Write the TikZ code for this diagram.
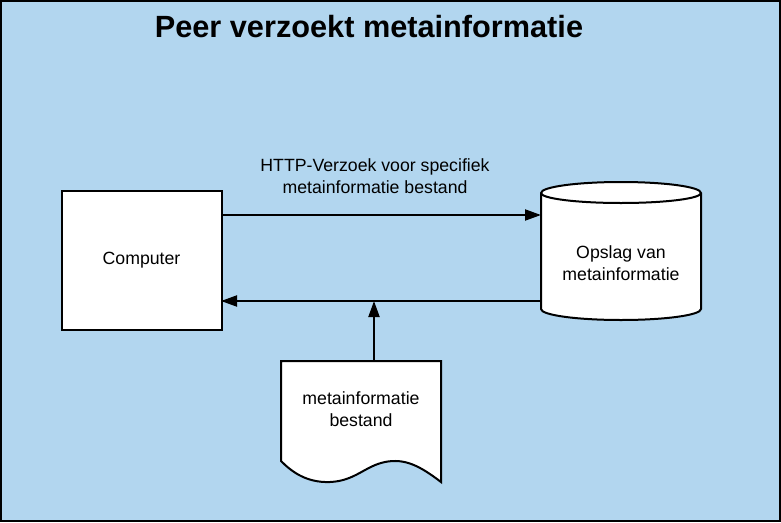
\documentclass[tikz,border=0pt]{standalone}
\usepackage{fontspec}
\setmainfont{Liberation Sans}
\usetikzlibrary{arrows.meta}
\definecolor{bgblue}{RGB}{178,214,239}
\begin{document}
\begin{tikzpicture}[x=1pt,y=-1pt,
  line width=2pt,
  lbl/.style={font=\fontsize{17.7}{22}\selectfont, align=center, inner sep=0pt},
  arr/.style={-{Triangle[length=16pt,width=11pt]}, line width=2pt},
  box/.style={draw, fill=white, line width=2pt, minimum width=160pt, minimum height=139pt, inner sep=0pt}]
\useasboundingbox (0,0) rectangle (781,522);
% background
\path[fill=bgblue, draw=black, line width=2pt] (1,1) rectangle (780,521);
% title
\node[font=\bfseries\fontsize{30.7}{34}\selectfont, inner sep=0pt] (title) at (369,27) {Peer verzoekt metainformatie};
% computer
\node[box] (computer) at (141.5,260.5) {};
\node[lbl] (comptext) at (141.5,260) {Computer};
% cylinder
\node[inner sep=0pt, minimum width=160pt, minimum height=138pt] (opslag) at (621,251) {};
\path[draw, fill=white, line width=2pt]
  (541,193) -- (541,309) arc[start angle=180, end angle=360, x radius=80, y radius=-11] -- (701,193)
  arc[start angle=0, end angle=180, x radius=80, y radius=-11] -- cycle;
\draw[line width=2pt] (541,193) arc[start angle=180, end angle=360, x radius=80, y radius=-10];
\node[lbl] (opslagtext) at (621,263.5) {Opslag van\\metainformatie};
% document
\node[inner sep=0pt, minimum width=160pt, minimum height=120pt] (doc) at (361,421) {};
\path[draw, fill=white, line width=2pt, line join=miter]
  (281,361) -- (441,361) -- (441,482)
  .. controls (420,466) and (405,458) .. (385,462)
  .. controls (365,466) and (355,481) .. (330,482)
  .. controls (305,483) and (290,470) .. (281,461) -- cycle;
\node[lbl] (doctext) at (361,409) {metainformatie\\bestand};
% connectors
\coordinate (c1) at (221,215);
\coordinate (o1) at (541,215);
\coordinate (o2) at (541,301);
\coordinate (c2) at (221,301);
\coordinate (d1) at (374,360);
\coordinate (j1) at (374,301);
\draw[arr] (c1) -- (o1);
\draw[arr] (o2) -- (c2);
\draw[arr] (d1) -- (j1);
\node[lbl] (httplabel) at (375,176) {HTTP-Verzoek voor specifiek\\metainformatie bestand};
\end{tikzpicture}
\end{document}
